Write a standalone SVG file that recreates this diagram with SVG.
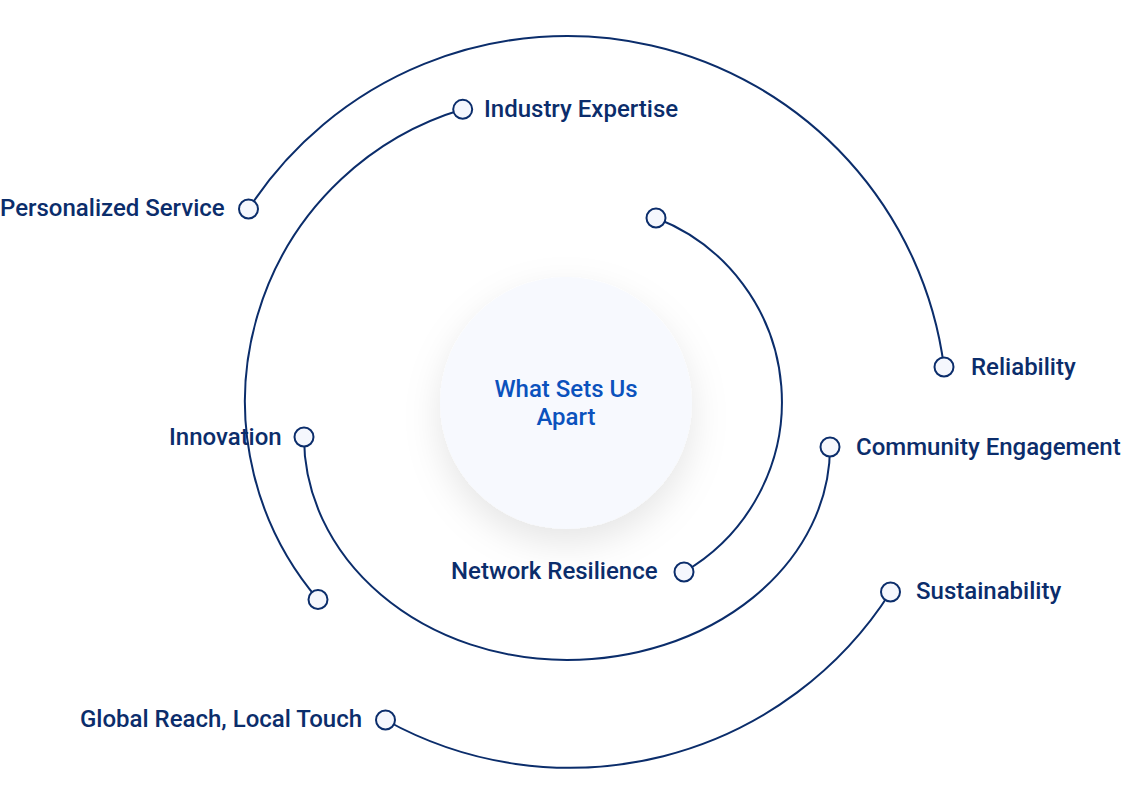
<svg xmlns="http://www.w3.org/2000/svg" width="1121" height="791" viewBox="0 0 1121 791">
  <defs>
    <filter id="shadow" x="-40%" y="-40%" width="180%" height="190%">
      <feDropShadow dx="0" dy="14" stdDeviation="18" flood-color="#000000" flood-opacity="0.10"/>
    </filter>
    <style>
      .conn { fill: none; stroke: #0b2d6b; stroke-width: 2; }
      .dot { fill: #f5f7fd; stroke: #0b2d6b; stroke-width: 2; }
      .lbl { font-family: Roboto, "Liberation Sans", sans-serif; font-weight: 500; font-size: 24px; fill: #0b2d6b; }
      .ctr { font-family: Roboto, "Liberation Sans", sans-serif; font-weight: 500; font-size: 24px; fill: #0b52bd; text-anchor: middle; }
    </style>
  </defs>
  <rect width="1121" height="791" fill="#ffffff"/>

  <g id="center">
    <circle cx="566" cy="403" r="126" fill="#f7f9fe" filter="url(#shadow)"/>
    <text class="ctr" x="566" y="397">What Sets Us</text>
    <text class="ctr" x="566" y="425">Apart</text>
  </g>

  <g id="connectors">
    <path class="conn" d="M248.5 209 A380 380 0 0 1 944 367"/>
    <path class="conn" d="M462.7 109.3 A305 305 0 0 0 318 599.5"/>
    <path class="conn" d="M304 437 A263 223 0 0 0 567 660 A263 213 0 0 0 830 447"/>
    <path class="conn" d="M656 218 A197 197 0 0 1 684 572"/>
    <path class="conn" d="M385.5 720 A380 380 0 0 0 890.5 592"/>
  </g>

  <g id="node-personalized-service">
    <circle class="dot" cx="248.5" cy="209" r="9.5"/>
    <text class="lbl" x="0" y="216">Personalized Service</text>
  </g>
  <g id="node-industry-expertise">
    <circle class="dot" cx="462.7" cy="109.3" r="9.5"/>
    <text class="lbl" x="484" y="117">Industry Expertise</text>
  </g>
  <g id="node-reliability">
    <circle class="dot" cx="944" cy="367" r="9.5"/>
    <text class="lbl" x="971" y="375">Reliability</text>
  </g>
  <g id="node-innovation">
    <circle class="dot" cx="304" cy="437" r="9.5"/>
    <text class="lbl" x="169" y="445">Innovation</text>
  </g>
  <g id="node-community-engagement">
    <circle class="dot" cx="830" cy="447" r="9.5"/>
    <text class="lbl" x="856" y="455">Community Engagement</text>
  </g>
  <g id="node-network-resilience">
    <circle class="dot" cx="684" cy="572" r="9.5"/>
    <text class="lbl" x="451" y="579">Network Resilience</text>
  </g>
  <g id="node-sustainability">
    <circle class="dot" cx="890.5" cy="592" r="9.5"/>
    <text class="lbl" x="916" y="599">Sustainability</text>
  </g>
  <g id="node-global-reach">
    <circle class="dot" cx="385.5" cy="720" r="9.5"/>
    <text class="lbl" x="80" y="727">Global Reach, Local Touch</text>
  </g>
  <g id="node-end-a">
    <circle class="dot" cx="656" cy="218" r="9.5"/>
  </g>
  <g id="node-end-b">
    <circle class="dot" cx="318" cy="599.5" r="9.5"/>
  </g>
</svg>
